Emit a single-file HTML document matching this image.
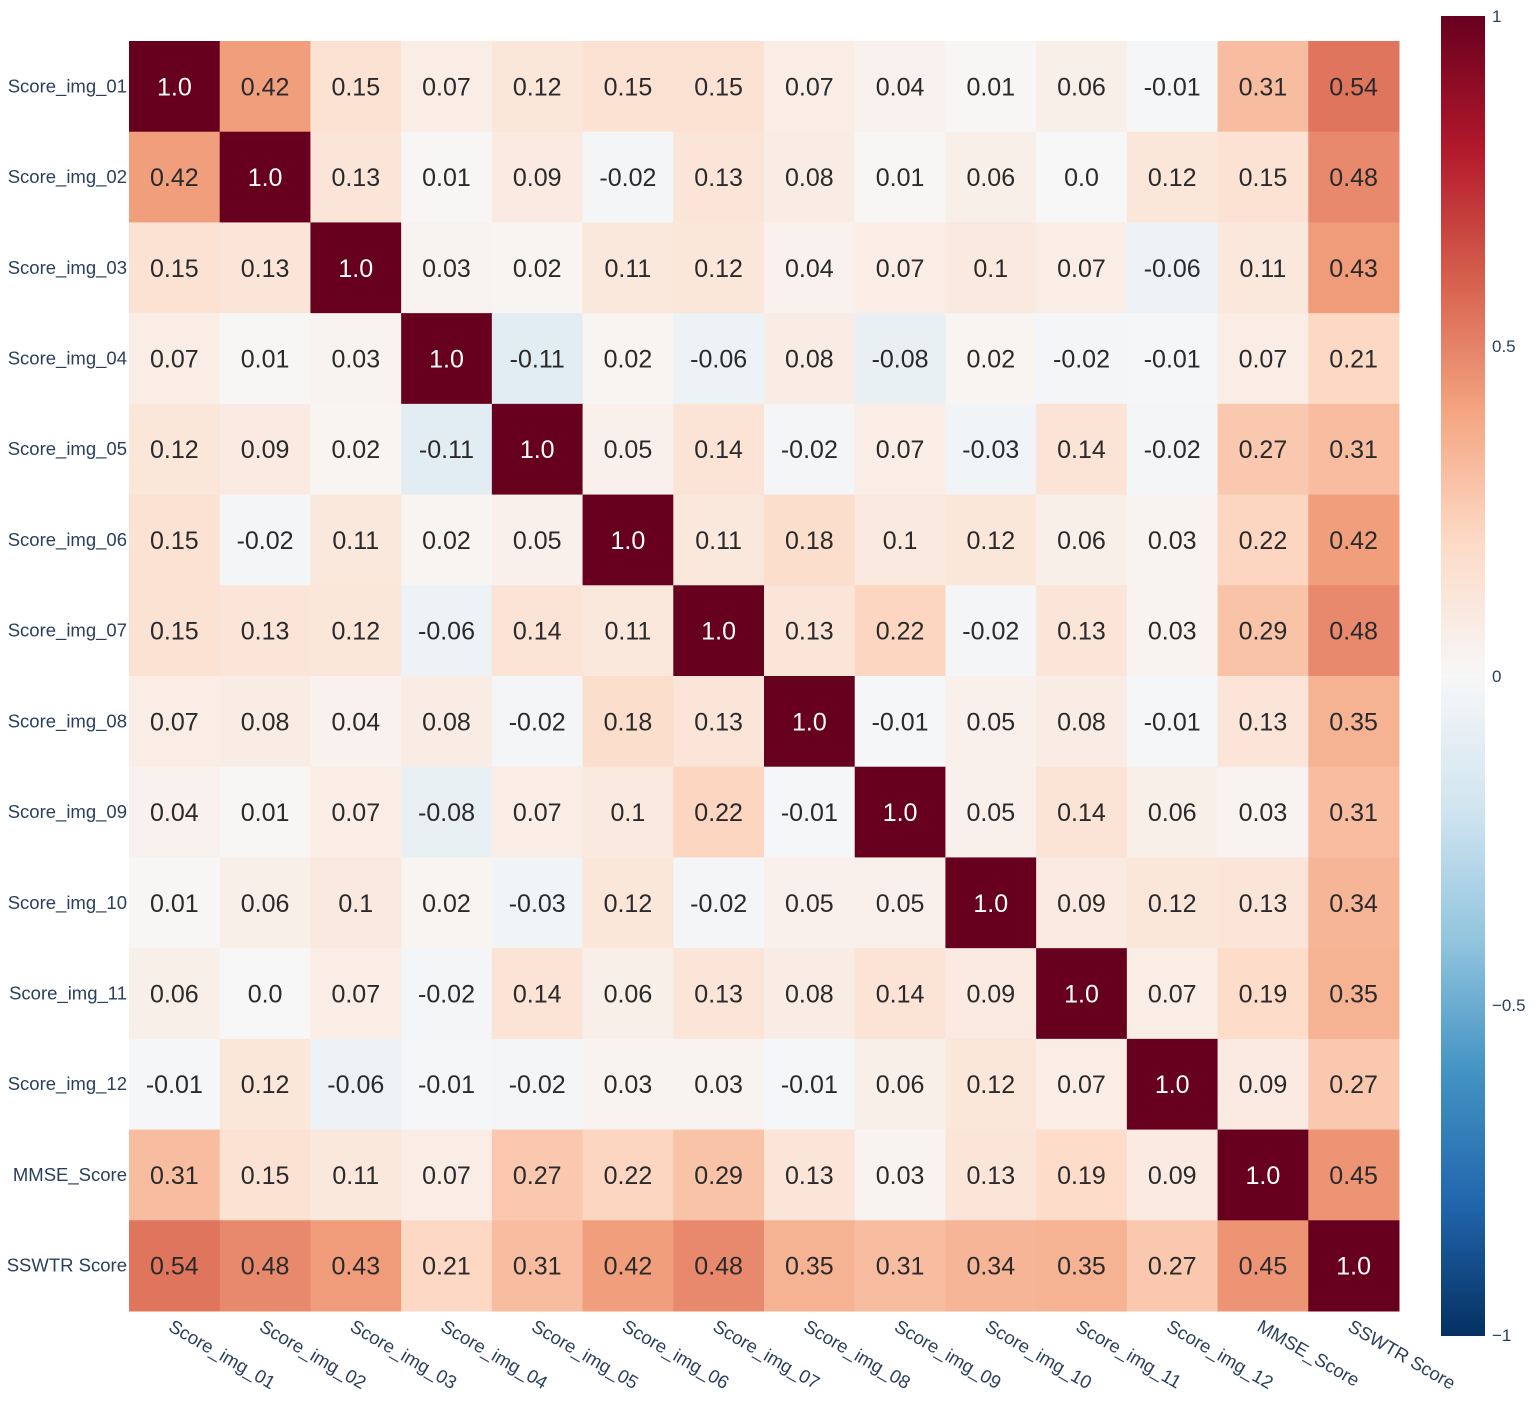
<!DOCTYPE html>
<html><head><meta charset="utf-8"><style>
body{margin:0;background:#fff;width:1536px;height:1399px;overflow:hidden;font-family:"Liberation Sans","DejaVu Sans",sans-serif}
</style></head><body>
<svg id="s" width="1536" height="1399" xmlns="http://www.w3.org/2000/svg">
<defs><linearGradient id="g" x1="0" y1="1" x2="0" y2="0">
<stop offset="0" stop-color="rgb(5,48,97)"/><stop offset="0.1" stop-color="rgb(33,102,172)"/><stop offset="0.2" stop-color="rgb(67,147,195)"/><stop offset="0.3" stop-color="rgb(146,197,222)"/><stop offset="0.4" stop-color="rgb(209,229,240)"/><stop offset="0.5" stop-color="rgb(247,247,247)"/><stop offset="0.6" stop-color="rgb(253,219,199)"/><stop offset="0.7" stop-color="rgb(244,165,130)"/><stop offset="0.8" stop-color="rgb(214,96,77)"/><stop offset="0.9" stop-color="rgb(178,24,43)"/><stop offset="1" stop-color="rgb(103,0,31)"/>
</linearGradient></defs>
<rect x="1441" y="16" width="44" height="1320" fill="url(#g)"/>
<g font-size="17" fill="#2a3f5f">
<text x="1492" y="22">1</text><text x="1492" y="352">0.5</text><text x="1492" y="682">0</text><text x="1492" y="1011">−0.5</text><text x="1492" y="1341">−1</text>
</g>
</svg>
<script>
const L=["Score_img_01","Score_img_02","Score_img_03","Score_img_04","Score_img_05","Score_img_06","Score_img_07","Score_img_08","Score_img_09","Score_img_10","Score_img_11","Score_img_12","MMSE_Score","SSWTR Score"];
const M=[
[1.0,0.42,0.15,0.07,0.12,0.15,0.15,0.07,0.04,0.01,0.06,-0.01,0.31,0.54],
[0.42,1.0,0.13,0.01,0.09,-0.02,0.13,0.08,0.01,0.06,0.0,0.12,0.15,0.48],
[0.15,0.13,1.0,0.03,0.02,0.11,0.12,0.04,0.07,0.1,0.07,-0.06,0.11,0.43],
[0.07,0.01,0.03,1.0,-0.11,0.02,-0.06,0.08,-0.08,0.02,-0.02,-0.01,0.07,0.21],
[0.12,0.09,0.02,-0.11,1.0,0.05,0.14,-0.02,0.07,-0.03,0.14,-0.02,0.27,0.31],
[0.15,-0.02,0.11,0.02,0.05,1.0,0.11,0.18,0.1,0.12,0.06,0.03,0.22,0.42],
[0.15,0.13,0.12,-0.06,0.14,0.11,1.0,0.13,0.22,-0.02,0.13,0.03,0.29,0.48],
[0.07,0.08,0.04,0.08,-0.02,0.18,0.13,1.0,-0.01,0.05,0.08,-0.01,0.13,0.35],
[0.04,0.01,0.07,-0.08,0.07,0.1,0.22,-0.01,1.0,0.05,0.14,0.06,0.03,0.31],
[0.01,0.06,0.1,0.02,-0.03,0.12,-0.02,0.05,0.05,1.0,0.09,0.12,0.13,0.34],
[0.06,0.0,0.07,-0.02,0.14,0.06,0.13,0.08,0.14,0.09,1.0,0.07,0.19,0.35],
[-0.01,0.12,-0.06,-0.01,-0.02,0.03,0.03,-0.01,0.06,0.12,0.07,1.0,0.09,0.27],
[0.31,0.15,0.11,0.07,0.27,0.22,0.29,0.13,0.03,0.13,0.19,0.09,1.0,0.45],
[0.54,0.48,0.43,0.21,0.31,0.42,0.48,0.35,0.31,0.34,0.35,0.27,0.45,1.0]];
const C=[[5,48,97],[33,102,172],[67,147,195],[146,197,222],[209,229,240],[247,247,247],[253,219,199],[244,165,130],[214,96,77],[178,24,43],[103,0,31]];
function col(v){let t=(v+1)/2*10;let i=Math.min(9,Math.floor(t));let f=t-i;let a=C[i],b=C[i+1];return`rgb(${a.map((x,k)=>Math.round(x+(b[k]-x)*f)).join(",")})`;}
const s=document.getElementById("s");let h="";
const x0=129,y0=41,w=1270/14;
for(let r=0;r<14;r++){for(let c=0;c<14;c++){const v=M[r][c];const x=x0+c*w,y=y0+r*w;
h+=`<rect x="${x}" y="${y}" width="${w+0.5}" height="${w+0.5}" fill="${col(v)}"/>`;
let t=v==1?"1.0":String(v);if(v===0)t="0.0";
h+=`<text x="${x+w/2}" y="${y+w/2+9}" text-anchor="middle" font-size="25" fill="${v>0.6?'#fff':'#2a2a2a'}">${t}</text>`;}
h+=`<text x="127" y="${y0+r*w+w/2+6}" text-anchor="end" font-size="18.5" fill="#2a3f5f">${L[r]}</text>`;
const cx=x0+r*w+w/2-7;h+=`<text transform="translate(${cx},1330) rotate(30)" font-size="18.5" fill="#2a3f5f">${L[r]}</text>`;}
s.insertAdjacentHTML("beforeend",h);
</script>
</body></html>
